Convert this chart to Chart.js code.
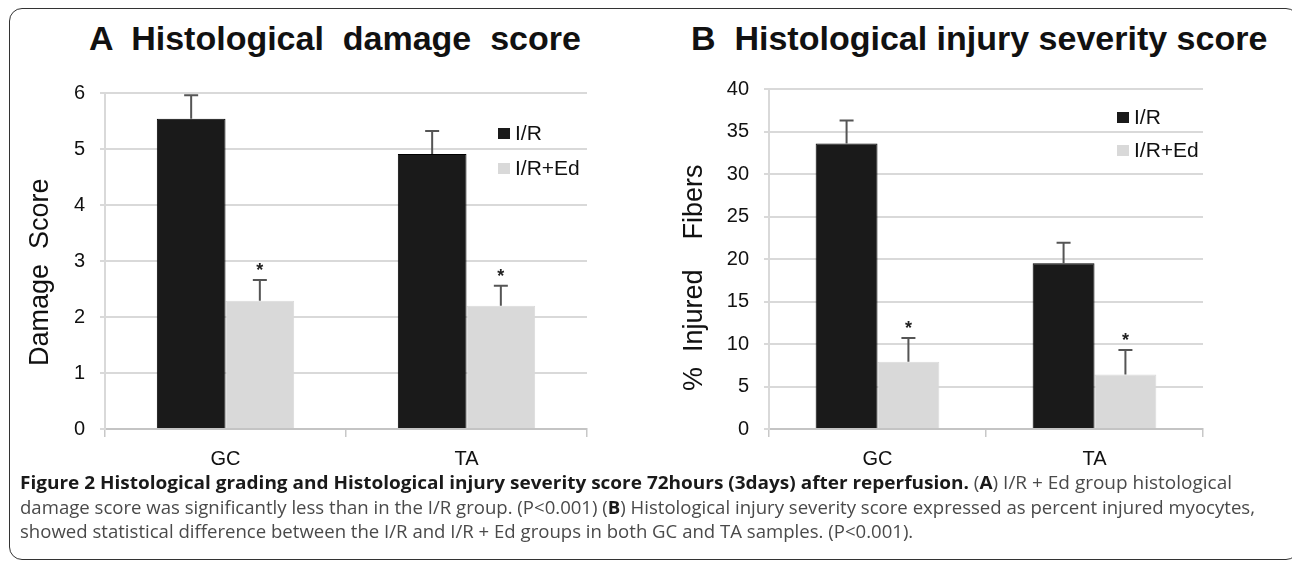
<!DOCTYPE html>
<html>
<head>
<meta charset="utf-8">
<script src="https://cdn.jsdelivr.net/npm/chart.js@4.4.1/dist/chart.umd.min.js"></script>
<style>
  html, body { margin: 0; padding: 0; background: #fff; }
  body { width: 1292px; height: 562px; position: relative; overflow: hidden; font-family: Arial, "Liberation Sans", sans-serif; }
  #frame { position: absolute; left: 9px; top: 8px; width: 1290px; height: 552px; border: 1.5px solid #333; border-radius: 13px; box-sizing: border-box; }
  .title { position: absolute; top: 18px; font-weight: bold; font-size: 34px; line-height: 40px; white-space: pre; color: #111; }
  canvas { position: absolute; top: 0; }
  #caption { position: absolute; left: 20px; top: 470px; font-family: "Open Sans", sans-serif; font-size: 18px; color: #4a4a4a; }
  .line { white-space: nowrap; height: 24.5px; line-height: 24.5px; transform-origin: 0 50%; width: max-content; }
  .line b { color: #1a1a1a; font-weight: 700; }
</style>
</head>
<body>
<div id="frame"></div>
<div class="title" style="left:89px">A  Histological  damage  score</div>
<div class="title" style="left:691px">B  Histological injury severity score</div>
<canvas id="chartA" width="646" height="480" style="left:0"></canvas>
<canvas id="chartB" width="646" height="480" style="left:646px"></canvas>
<div id="caption">
  <div class="line" id="l1"><b>Figure 2 Histological grading and Histological injury severity score 72hours (3days) after reperfusion.</b> (<b>A</b>) I/R + Ed group histological</div>
  <div class="line" id="l2">damage score was significantly less than in the I/R group. (P&lt;0.001) (<b>B</b>) Histological injury severity score expressed as percent injured myocytes,</div>
  <div class="line" id="l3">showed statistical difference between the I/R and I/R + Ed groups in both GC and TA samples. (P&lt;0.001).</div>
</div>
<script>
// categories and series
const categories = ["GC", "TA"];
const seriesNames = ["I/R", "I/R+Ed"];

// A: damage score (mean, +error)
const damageIR = [5.54, 4.91];
const damageIRErr = [0.42, 0.41];
const damageEd = [2.29, 2.2];
const damageEdErr = [0.37, 0.36];

// B: % injured fibers (mean, +error)
const injuryIR = [33.6, 19.5];
const injuryIRErr = [2.7, 2.4];
const injuryEd = [7.9, 6.4];
const injuryEdErr = [2.8, 2.9];

// y axis ranges
const damageAxis = { max: 6, step: 1 };
const injuryAxis = { max: 40, step: 5 };

const colorIR = "#1a1a1a";
const colorEd = "#d9d9d9";

// error bars + asterisks over the I/R+Ed bars
const errorBarPlugin = {
  id: "errorBars",
  afterDatasetsDraw(chart) {
    const ctx = chart.ctx;
    const y = chart.scales.y;
    chart.data.datasets.forEach((ds, i) => {
      const meta = chart.getDatasetMeta(i);
      meta.data.forEach((bar, j) => {
        const top = y.getPixelForValue(ds.data[j] + ds.errors[j]);
        ctx.save();
        ctx.strokeStyle = "#555";
        ctx.lineWidth = 2;
        ctx.beginPath();
        ctx.moveTo(bar.x, bar.y);
        ctx.lineTo(bar.x, top);
        ctx.moveTo(bar.x - 7, top);
        ctx.lineTo(bar.x + 7, top);
        ctx.stroke();
        if (ds.star) {
          ctx.fillStyle = "#222";
          ctx.font = "bold 18px Arial";
          ctx.textAlign = "center";
          ctx.textBaseline = "alphabetic";
          ctx.fillText("*", bar.x, top - 4);
        }
        ctx.restore();
      });
    });
  }
};

// legend drawn inside the plot area
const innerLegendPlugin = {
  id: "innerLegend",
  afterDraw(chart, args, opts) {
    const ctx = chart.ctx;
    ctx.save();
    ctx.font = "21px Arial";
    ctx.textBaseline = "middle";
    ctx.textAlign = "left";
    chart.data.datasets.forEach((ds, i) => {
      const cy = opts.y + i * opts.gap;
      ctx.fillStyle = ds.backgroundColor;
      ctx.fillRect(opts.x, cy - 5, 12, 11);
      ctx.fillStyle = "#111";
      ctx.fillText(ds.label, opts.x + 17, cy + 1);
    });
    ctx.restore();
  }
};

function makeChart(id, irVals, irErr, edVals, edErr, axis, yTitle, cfg) {
  return new Chart(document.getElementById(id), {
    type: "bar",
    data: {
      labels: categories,
      datasets: [
        { label: seriesNames[0], data: irVals, errors: irErr, backgroundColor: colorIR,
          borderColor: "#000", borderWidth: 1, categoryPercentage: 0.57, barPercentage: 1.0 },
        { label: seriesNames[1], data: edVals, errors: edErr, star: true, backgroundColor: colorEd,
          borderColor: colorEd, borderWidth: 1, categoryPercentage: 0.57, barPercentage: 1.0 }
      ]
    },
    options: {
      responsive: false,
      animation: false,
      devicePixelRatio: 1,
      layout: { padding: { left: 0, right: cfg.padRight, top: cfg.padTop, bottom: 0 } },
      plugins: {
        legend: { display: false },
        tooltip: { enabled: false },
        innerLegend: cfg.legend
      },
      scales: {
        x: {
          afterFit(scale) { scale.height = 51; },
          grid: { offset: true, drawOnChartArea: false, color: "#c8c8c8", lineWidth: 1.5, tickLength: 8 },
          border: { color: "#c4c4c4", width: 2 },
          ticks: { color: "#111", font: { size: 20, family: "Arial" }, padding: 10 }
        },
        y: {
          min: 0,
          max: axis.max,
          afterFit(scale) { scale.width = cfg.axisWidth; },
          grid: { color: "#d9d9d9", lineWidth: 2, tickLength: 5 },
          border: { color: "#d9d9d9", width: 2 },
          ticks: { stepSize: axis.step, color: "#111", font: { size: 20, family: "Arial" }, padding: 15 },
          title: { display: true, text: yTitle, color: "#111", font: { size: 27, family: "Arial" },
                   padding: { top: cfg.titlePad, bottom: 0 } }
        }
      }
    },
    plugins: [errorBarPlugin, innerLegendPlugin]
  });
}

makeChart("chartA", damageIR, damageIRErr, damageEd, damageEdErr, damageAxis, "Damage  Score   ",
  { axisWidth: 105, titlePad: 24, padRight: 59, padTop: 93, legend: { x: 498, y: 133, gap: 35 } });
makeChart("chartB", injuryIR, injuryIRErr, injuryEd, injuryEdErr, injuryAxis, "%  Injured    Fibers     ",
  { axisWidth: 123, titlePad: 32, padRight: 89, padTop: 89, legend: { x: 471, y: 117, gap: 33 } });

// fit caption lines to the figure width
function fitLine(id, target) {
  const el = document.getElementById(id);
  const s = target / el.getBoundingClientRect().width;
  el.style.transform = "scaleX(" + s + ")";
  return s;
}
fitLine("l1", 1212);
const s2 = fitLine("l2", 1235);
document.getElementById("l3").style.transform = "scaleX(" + s2 + ")";
</script>
</body>
</html>
